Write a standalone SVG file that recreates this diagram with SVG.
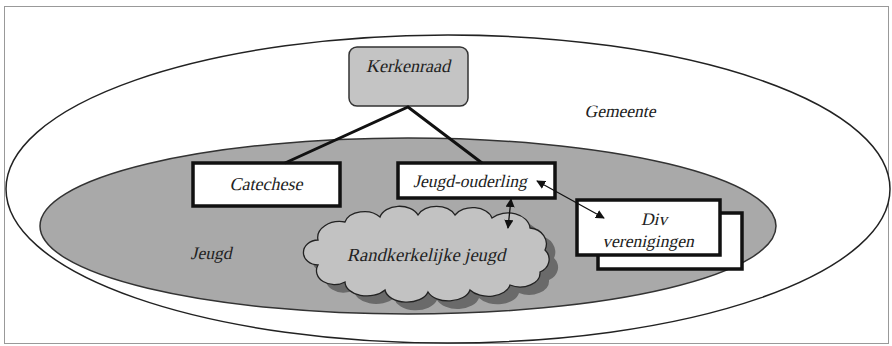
<svg xmlns="http://www.w3.org/2000/svg" width="892" height="346" viewBox="0 0 892 346">
<defs>
<marker id="ah" viewBox="0 0 10 10" refX="9" refY="5" markerWidth="9" markerHeight="9" markerUnits="userSpaceOnUse" orient="auto-start-reverse">
<path d="M0,0 L10,5 L0,10 Z" fill="#111"/>
</marker>
<path id="cloud" d="M318,240 A22,16 0 0 1 345,222 A20,14 0 0 1 380,217 A20,14 0 0 1 418,215 A20,14 0 0 1 455,215 A20,14 0 0 1 492,218 A22,16 0 0 1 530,228 A18,16 0 0 1 545,250 A16,14 0 0 1 540,272 A20,14 0 0 1 510,285 A22,14 0 0 1 470,290 A22,14 0 0 1 428,292 A22,14 0 0 1 385,290 A22,14 0 0 1 345,282 A18,14 0 0 1 318,265 A14,12 0 0 1 318,240 Z"/>
</defs>
<rect x="0" y="0" width="892" height="346" fill="#fff"/>
<rect x="4.5" y="6.5" width="884" height="337" fill="none" stroke="#999" stroke-width="1"/>
<g id="gemeente">
<ellipse cx="448" cy="189" rx="442" ry="154" fill="#fff" stroke="#222" stroke-width="1.5"/>
<text transform="translate(620,117) skewX(-13)" x="0" y="0" text-anchor="middle" fill="#222" font-family="Liberation Serif" font-size="17.5">Gemeente</text>
</g>
<g id="jeugd">
<ellipse cx="408" cy="226" rx="368" ry="88" fill="#a9a9a9" stroke="#333" stroke-width="1.5"/>
<text transform="translate(211,259) skewX(-13)" x="0" y="0" text-anchor="middle" fill="#222" font-family="Liberation Serif" font-size="17.5">Jeugd</text>
</g>
<g id="kerkenraad">
<rect x="349" y="47" width="119" height="59" rx="8" fill="#c4c4c4" stroke="#333" stroke-width="1.5"/>
<text transform="translate(408,72) skewX(-13)" x="0" y="0" text-anchor="middle" fill="#222" font-family="Liberation Serif" font-size="18">Kerkenraad</text>
</g>
<g id="catechese" fill="#fff" stroke="#111" stroke-width="3.5">
<rect x="193" y="163" width="147" height="43"/>
<text transform="translate(266,190) skewX(-13)" x="0" y="0" text-anchor="middle" fill="#222" stroke="none" font-family="Liberation Serif" font-size="18">Catechese</text>
</g>
<g id="jeugd-ouderling" fill="#fff" stroke="#111" stroke-width="3.5">
<rect x="398" y="163" width="157" height="35"/>
<text transform="translate(470,187) skewX(-13)" x="0" y="0" text-anchor="middle" fill="#222" stroke="none" font-family="Liberation Serif" font-size="17.5">Jeugd-ouderling</text>
</g>
<g id="div-verenigingen" fill="#fff" stroke="#111" stroke-width="3.5">
<rect x="598" y="213" width="144" height="56"/>
<rect x="577" y="200" width="143" height="55"/>
<text transform="translate(654,225) skewX(-13)" x="0" y="0" text-anchor="middle" fill="#222" stroke="none" font-family="Liberation Serif" font-size="17.5">Div</text>
<text transform="translate(648,247) skewX(-13)" x="0" y="0" text-anchor="middle" fill="#222" stroke="none" font-family="Liberation Serif" font-size="17.5">verenigingen</text>
</g>
<g id="randkerkelijke-jeugd">
<use href="#cloud" transform="translate(9,8)" fill="#6a6a6a"/>
<use href="#cloud" fill="#c2c2c2" stroke="#222" stroke-width="1.3"/>
<text transform="translate(426,261) skewX(-13)" x="0" y="0" text-anchor="middle" fill="#222" font-family="Liberation Serif" font-size="18.5">Randkerkelijke jeugd</text>
</g>
<g id="connectors" stroke="#111" fill="none">
<polyline points="285,163 408,107 482,163" stroke-width="3"/>
<line x1="511" y1="199" x2="508" y2="228" stroke-width="1.3" marker-start="url(#ah)" marker-end="url(#ah)"/>
<line x1="537" y1="181" x2="604" y2="218" stroke-width="1.3" marker-start="url(#ah)" marker-end="url(#ah)"/>
</g>
</svg>
